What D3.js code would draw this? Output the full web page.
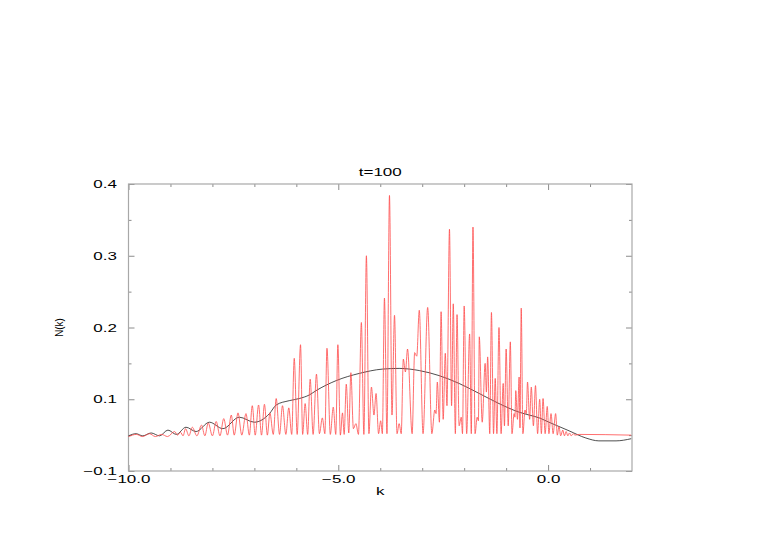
<!DOCTYPE html>
<html>
<head>
<meta charset="utf-8">
<script src="https://cdn.jsdelivr.net/npm/d3@7"></script>
<style>
  body { margin: 0; background: #fff; }
  text { font-family: "Liberation Sans", Arial, sans-serif; fill: #000; }
</style>
</head>
<body>
<div id="my_dataviz"></div>
<script>
// tick labels (bottom y label is printed as -0.1 in the original plot)
var xTickValues = [-10, -5, 0];
var xTickLabels = ["\u221210.0", "\u22125.0", "0.0"];
var xMinorTicks = [-9, -8, -7, -6, -4, -3, -2, -1, 1];
var yTickValues = [0, 0.1, 0.2, 0.3, 0.4];
var yTickLabels = ["\u22120.1", "0.1", "0.2", "0.3", "0.4"];
var yMinorTicks = [0.05, 0.15, 0.25, 0.35];

// smooth curve (black)
var blackK = [-10.0, -9.82, -9.66, -9.46, -9.26, -9.06, -8.86, -8.63, -8.39, -8.07, -7.75, -7.36, -7.0,
  -6.64, -6.48, -6.17, -5.93, -5.69, -5.53, -5.05, -4.5, -3.95, -3.55, -3.07, -2.6, -2.12, -1.64,
  -1.17, -0.69, -0.45, -0.21, 0.02, 0.26, 0.5, 0.9, 1.21, 1.62, 1.98];
var blackN = [0.049, 0.052, 0.049, 0.053, 0.049, 0.057, 0.051, 0.061, 0.055, 0.068, 0.059, 0.075, 0.068,
  0.080, 0.092, 0.098, 0.101, 0.106, 0.112, 0.126, 0.136, 0.142, 0.143, 0.140, 0.133, 0.122, 0.108,
  0.094, 0.082, 0.078, 0.074, 0.068, 0.062, 0.056, 0.046, 0.042, 0.042, 0.045];

// oscillating curve (red), peaks and troughs
var redK = [-10.00, -9.81, -9.67, -9.50, -9.36, -9.21, -9.07, -8.90, -8.83, -8.76, -8.70, -8.64, -8.56,
  -8.48, -8.37, -8.26, -8.18, -8.10, -8.00, -7.91, -7.82, -7.73, -7.64, -7.55, -7.48, -7.39, -7.30,
  -7.20, -7.12, -7.05, -6.98, -6.90, -6.83, -6.76, -6.69, -6.63, -6.55, -6.48, -6.40, -6.33, -6.25,
  -6.18, -6.11, -6.05, -5.98, -5.90, -5.85, -5.79, -5.73, -5.67, -5.60, -5.52, -5.45, -5.38, -5.32,
  -5.27, -5.19, -5.12, -5.06, -5.01, -4.95, -4.90, -4.86, -4.81, -4.75, -4.70, -4.64, -4.58, -4.52,
  -4.45, -4.39, -4.33, -4.27, -4.21, -4.15, -4.10, -4.04, -3.99, -3.95, -3.90, -3.84, -3.78, -3.72,
  -3.66, -3.60, -3.55, -3.50, -3.45, -3.40, -3.35, -3.24, -3.18, -3.13, -3.07, -2.98, -2.87, -2.77,
  -2.70, -2.67, -2.64, -2.59, -2.55, -2.50, -2.45, -2.41, -2.35, -2.30, -2.26, -2.21, -2.17, -2.12,
  -2.07, -2.04, -2.00, -1.94, -1.87, -1.83, -1.79, -1.74, -1.69, -1.66, -1.64, -1.57, -1.50, -1.47,
  -1.44, -1.39, -1.35, -1.30, -1.26, -1.22, -1.17, -1.12, -1.07, -1.04, -1.00, -0.95, -0.90, -0.86,
  -0.81, -0.79, -0.77, -0.73, -0.69, -0.67, -0.64, -0.60, -0.55, -0.52, -0.49, -0.44, -0.40, -0.35,
  -0.30, -0.25, -0.20, -0.16, -0.12, -0.07, -0.02, 0.02, 0.07, 0.12, 0.18, 0.22, 0.26, 0.30, 0.35,
  0.39, 0.43, 0.47, 0.51, 0.55, 0.60, 0.64, 0.74, 1.98];
var redN = [0.048, 0.051, 0.048, 0.052, 0.048, 0.051, 0.048, 0.055, 0.050, 0.054, 0.049, 0.059, 0.049,
  0.061, 0.049, 0.064, 0.049, 0.067, 0.049, 0.069, 0.049, 0.073, 0.050, 0.078, 0.050, 0.081, 0.050,
  0.080, 0.050, 0.091, 0.050, 0.092, 0.050, 0.093, 0.050, 0.081, 0.051, 0.101, 0.051, 0.091, 0.051,
  0.088, 0.051, 0.157, 0.051, 0.176, 0.051, 0.094, 0.051, 0.128, 0.051, 0.135, 0.052, 0.074, 0.052,
  0.171, 0.051, 0.089, 0.051, 0.176, 0.050, 0.081, 0.051, 0.121, 0.053, 0.137, 0.059, 0.066, 0.051,
  0.207, 0.051, 0.300, 0.052, 0.117, 0.078, 0.108, 0.052, 0.070, 0.052, 0.241, 0.052, 0.384, 0.078,
  0.217, 0.052, 0.066, 0.052, 0.156, 0.138, 0.170, 0.052, 0.165, 0.160, 0.224, 0.052, 0.228, 0.052,
  0.085, 0.080, 0.124, 0.068, 0.222, 0.072, 0.164, 0.091, 0.337, 0.091, 0.233, 0.052, 0.218, 0.063,
  0.075, 0.052, 0.230, 0.052, 0.191, 0.052, 0.340, 0.052, 0.075, 0.070, 0.187, 0.068, 0.150, 0.110,
  0.159, 0.052, 0.221, 0.052, 0.129, 0.052, 0.200, 0.052, 0.122, 0.063, 0.170, 0.063, 0.180, 0.052,
  0.080, 0.075, 0.112, 0.072, 0.131, 0.060, 0.227, 0.052, 0.085, 0.080, 0.124, 0.072, 0.117, 0.063,
  0.119, 0.052, 0.100, 0.052, 0.101, 0.052, 0.090, 0.052, 0.080, 0.052, 0.080, 0.050, 0.062, 0.049,
  0.057, 0.049, 0.055, 0.049, 0.053, 0.049, 0.052, 0.050, 0.051, 0.050];

// set the dimensions and margins of the graph
var margin = {top: 184, right: 131, bottom: 74, left: 128.5},
    width = 763 - margin.left - margin.right,
    height = 545 - margin.top - margin.bottom;

var svg = d3.select("#my_dataviz")
  .append("svg")
    .attr("width", width + margin.left + margin.right)
    .attr("height", height + margin.top + margin.bottom)
  .append("g")
    .attr("transform", "translate(" + margin.left + "," + margin.top + ")");

var x = d3.scaleLinear().domain([-10, 2]).range([0, width]);
var y = d3.scaleLinear().domain([0, 0.4]).range([height, 0]);

var stretch = "scale(1.7,1)";

// axes: ticks point into the frame on all four sides
function tickAxis(axisFn, values, size, fmt) {
  return axisFn.tickValues(values).tickSize(-size).tickPadding(0).tickFormat(fmt);
}
var noLabel = function() { return ""; };

var gx = svg.append("g")
  .attr("transform", "translate(0," + height + ")")
  .call(tickAxis(d3.axisBottom(x), xTickValues, 6, function(d, i) { return xTickLabels[i]; }));
gx.selectAll("text")
  .attr("y", 12.5).attr("dy", 0)
  .attr("transform", stretch)
  .style("font-size", "10px");
svg.append("g")
  .attr("transform", "translate(0," + height + ")")
  .call(tickAxis(d3.axisBottom(x), xMinorTicks, 3, noLabel));
svg.append("g").call(tickAxis(d3.axisTop(x), xTickValues, 6, noLabel));
svg.append("g").call(tickAxis(d3.axisTop(x), xMinorTicks, 3, noLabel));

var gy = svg.append("g")
  .call(tickAxis(d3.axisLeft(y), yTickValues, 6, function(d, i) { return yTickLabels[i]; }));
gy.selectAll("text")
  .attr("x", -6.8).attr("dy", "0.36em")
  .attr("transform", stretch)
  .style("font-size", "10px");
svg.append("g").call(tickAxis(d3.axisLeft(y), yMinorTicks, 3, noLabel));
svg.append("g")
  .attr("transform", "translate(" + width + ",0)")
  .call(tickAxis(d3.axisRight(y), yTickValues, 6, noLabel));
svg.append("g")
  .attr("transform", "translate(" + width + ",0)")
  .call(tickAxis(d3.axisRight(y), yMinorTicks, 3, noLabel));

svg.selectAll(".domain").remove();
svg.selectAll(".tick line").attr("stroke", "#8c8c8c").attr("stroke-width", 1);
svg.selectAll(".tick text").attr("font-family", null);

// frame
svg.append("rect")
  .attr("x", 0).attr("y", 0)
  .attr("width", width).attr("height", height)
  .attr("fill", "none")
  .attr("stroke", "#a8a8a8")
  .attr("stroke-width", 1.2);

// curves
var line = d3.line()
  .x(function(d) { return x(d[0]); })
  .y(function(d) { return y(d[1]); })
  .curve(d3.curveMonotoneX);

svg.append("path")
  .datum(blackK.map(function(k, i) { return [k, blackN[i]]; }))
  .attr("fill", "none")
  .attr("stroke", "#222")
  .attr("stroke-width", 0.8)
  .attr("d", line);

svg.append("path")
  .datum(redK.map(function(k, i) { return [k, redN[i]]; }))
  .attr("fill", "none")
  .attr("stroke", "#ff4a4a")
  .attr("stroke-width", 0.8)
  .attr("d", line);

// labels
svg.append("text")
  .attr("transform", "translate(" + (width / 2) + ",-8) " + stretch)
  .attr("text-anchor", "middle")
  .style("font-size", "10px")
  .text("t=100");

svg.append("text")
  .attr("transform", "translate(" + (width / 2) + "," + (height + 24) + ") " + stretch)
  .attr("text-anchor", "middle")
  .style("font-size", "10px")
  .text("k");

svg.append("text")
  .attr("transform", "translate(" + (-66) + "," + (y(0.2)) + ") rotate(-90) scale(0.85,1)")
  .attr("text-anchor", "middle")
  .style("font-size", "11.5px")
  .text("N(k)");
</script>
</body>
</html>
